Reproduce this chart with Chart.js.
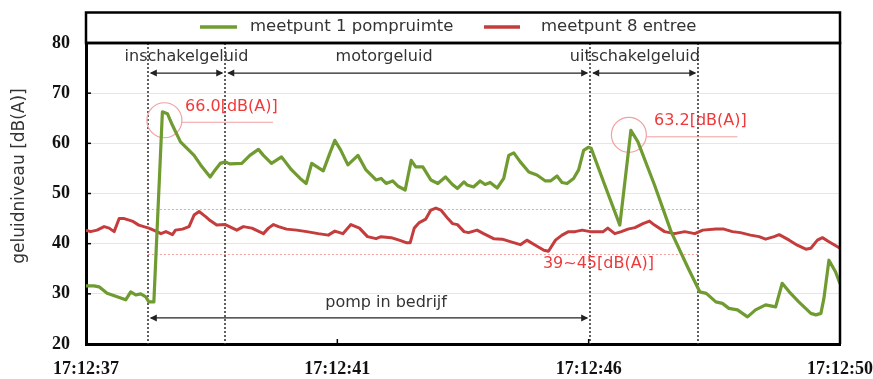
<!DOCTYPE html>
<html><head><meta charset="utf-8">
<script src="https://cdn.jsdelivr.net/npm/chart.js@4.4.0/dist/chart.umd.min.js"></script>
<style>html,body{margin:0;padding:0;background:#fff;}#wrap{width:873px;height:379px;position:relative;}</style>
</head><body><div id="wrap"><canvas id="c" width="873" height="379"></canvas></div>
<script>
const xTickLabels = ['17:12:37','17:12:41','17:12:46','17:12:50'];
const seriesNames = ['meetpunt 1 pompruimte','meetpunt 8 entree'];
const yTitle = 'geluidniveau [dB(A)]';

const greenX = [0,1.6,2.6,4.2,6.2,7.9,8.9,9.9,10.9,11.9,
12.5,13.5,15.2,16.2,17.2,18.8,20.5,21.5,22.8,24.7,
25.7,26.7,27.7,28.6,31.0,32.6,34.3,35.3,36.9,38.9,
40.9,42.6,43.8,44.9,47.2,48.5,49.5,50.7,52.1,54.1,
55.7,57.7,58.7,59.7,61.0,62.0,63.5,64.7,65.6,67.0,
68.6,70.0,71.5,72.9,73.9,75.2,75.8,77.1,78.4,79.4,
80.4,81.8,83.1,84.1,85.1,86.4,88.1,89.7,91.4,92.4,
93.7,94.7,95.7,97.0,98.0,99.0,99.9,100.5,103.2,106.2,
108.4,109.8,113.1,116.4,119.8,122.1,123.4,125.3,126.6,127.9,
129.6,130.6,131.6,133.2,135.2,137.2,138.5,139.9,141.8,144.2,
145.2,146.2,146.8,147.8,149.1,150];
const greenY = [31.6,31.6,31.4,30.1,29.4,28.8,30.4,29.8,30.0,29.4,
28.4,28.4,66.3,65.9,63.6,60.3,58.6,57.6,55.7,53.3,
54.7,56.0,56.3,55.9,56.0,57.6,58.8,57.6,56.0,57.3,
54.7,53.0,52.0,56.0,54.5,58.0,60.6,58.6,55.7,57.6,
54.7,52.7,53.0,52.0,52.5,51.5,50.7,56.6,55.3,55.3,
52.7,52.0,53.3,51.8,51.0,52.3,51.7,51.3,52.5,51.8,
52.2,51.1,53.0,57.6,58.1,56.3,54.3,53.7,52.5,52.5,
53.5,52.2,52.0,53.0,54.7,58.6,59.2,59.0,51.7,43.7,
62.6,60.3,51.7,42.4,35.1,30.4,30.1,28.4,28.1,27.1,
26.8,26.1,25.4,26.8,27.8,27.4,32.1,30.4,28.4,26.1,
25.8,26.1,29.1,36.7,34.4,32.0];

const redX = [0,0.9,2.2,3.6,4.6,5.6,6.6,7.6,9.2,10.5,
12.5,13.9,14.9,15.9,17.2,17.8,19.2,20.5,21.5,22.5,
23.8,24.7,26.0,27.7,30.0,31.3,33.0,35.3,36.3,37.3,
38.3,39.9,41.9,43.9,46.2,48.2,49.5,51.1,52.7,54.4,
56.0,57.7,58.7,60.7,62.3,63.7,64.5,65.3,66.3,67.6,
68.6,69.6,70.6,72.0,72.9,73.9,75.2,76.1,77.8,79.1,
81.1,82.8,84.4,86.4,87.7,89.4,91.1,92.0,93.4,94.7,
96.0,97.3,98.7,100.3,102.9,103.8,105.2,106.5,107.8,109.2,
110.8,112.1,113.1,115.1,117.1,119.1,121.1,122.7,125.3,126.9,
128.6,130.2,132.2,133.9,135.2,136.9,137.9,139.9,141.5,143.2,
144.2,145.5,146.5,147.8,149.5,150];
const redY = [42.7,42.4,42.7,43.4,43.1,42.4,45.0,45.0,44.5,43.7,
43.1,42.5,42.0,42.4,41.8,42.7,42.9,43.4,45.7,46.4,
45.4,44.6,43.7,43.8,42.7,43.4,43.1,42.0,43.1,43.8,
43.4,42.9,42.7,42.4,42.0,41.7,42.5,42.0,43.8,43.1,
41.4,41.0,41.4,41.2,40.7,40.2,40.2,43.1,44.2,44.9,
46.7,47.1,46.7,45.0,44.0,43.8,42.4,42.2,42.7,42.0,
41.0,40.9,40.4,39.8,40.7,39.7,38.7,38.5,40.7,41.7,
42.4,42.4,42.7,42.4,42.4,43.1,42.0,42.4,42.9,43.2,
44.0,44.5,43.7,42.4,42.0,42.4,42.0,42.7,42.9,42.9,
42.4,42.2,41.7,41.4,40.9,41.4,41.8,40.7,39.7,38.9,
39.1,40.7,41.2,40.4,39.4,39.1];

// annotations (in data units)
const phaseBounds = [12.3, 27.7, 100.3, 121.8];
const phaseLabels = ['inschakelgeluid','motorgeluid','uitschakelgeluid'];
const phaseLabelX = [20.0, 59.3, 109.2];
const runLabel = 'pomp in bedrijf';
const bandLimits = [37.9, 46.9];
const bandLabel = '39~45[dB(A)]';
const peakLabels = ['66.0[dB(A)]','63.2[dB(A)]'];
const peakCx = [15.6, 108.0];
const peakCy = [64.6, 61.7];

const GREEN = '#6f9b31', RED = '#c43c3c', ANN = '#f0393a', PINK = '#f2a0a0';
const SANS = '"DejaVu Sans", sans-serif';

function head(ctx, xt, py, dir){
  ctx.beginPath(); ctx.moveTo(xt, py); ctx.lineTo(xt + dir*7, py-3.5); ctx.lineTo(xt + dir*7, py+3.5); ctx.closePath(); ctx.fill();
}
function arrow(ctx, x1, x2, py){
  ctx.strokeStyle = '#222'; ctx.fillStyle = '#222'; ctx.lineWidth = 1.4;
  ctx.beginPath(); ctx.moveTo(x1+3, py); ctx.lineTo(x2-3, py); ctx.stroke();
  head(ctx, x1+2, py, 1); head(ctx, x2-2, py, -1);
}

const annot = {
  id: 'annot',
  beforeDatasetsDraw(chart){
    const {ctx, chartArea:a, scales:{x, y}} = chart;
    ctx.save();
    ctx.strokeStyle = PINK; ctx.lineWidth = 1; ctx.setLineDash([2,2]);
    bandLimits.forEach(v => {
      const py = Math.round(y.getPixelForValue(v)) + 0.5;
      ctx.beginPath(); ctx.moveTo(x.getPixelForValue(phaseBounds[0]), py); ctx.lineTo(x.getPixelForValue(phaseBounds[3]), py); ctx.stroke();
    });
    ctx.strokeStyle = '#3a3a3a'; ctx.lineWidth = 1.6; ctx.setLineDash([2,2]);
    phaseBounds.forEach(u => {
      const px = Math.round(x.getPixelForValue(u));
      ctx.beginPath(); ctx.moveTo(px, a.top); ctx.lineTo(px, a.bottom); ctx.stroke();
    });
    ctx.setLineDash([]);
    const ta = y.getPixelForValue(74.0);
    for (let i = 0; i < 3; i++) arrow(ctx, x.getPixelForValue(phaseBounds[i]), x.getPixelForValue(phaseBounds[i+1]), ta);
    const ba = y.getPixelForValue(25.2);
    arrow(ctx, x.getPixelForValue(phaseBounds[0]), x.getPixelForValue(phaseBounds[2]), ba);
    ctx.fillStyle = '#333'; ctx.font = '16px ' + SANS; ctx.textAlign = 'center'; ctx.textBaseline = 'middle';
    phaseLabels.forEach((t, i) => ctx.fillText(t, x.getPixelForValue(phaseLabelX[i]), y.getPixelForValue(77.2)));
    ctx.fillText(runLabel, x.getPixelForValue(59.7), y.getPixelForValue(28.2));
    ctx.fillStyle = ANN; ctx.textAlign = 'left';
    ctx.fillText(bandLabel, x.getPixelForValue(90.9), y.getPixelForValue(35.9));
    const lineEnd = [37.2, 129.6];
    const labelX = [19.7, 113.0];
    peakLabels.forEach((t, i) => {
      const cx = x.getPixelForValue(peakCx[i]), cy = y.getPixelForValue(peakCy[i]);
      const r = 17.5;
      ctx.strokeStyle = PINK; ctx.lineWidth = 1.2;
      ctx.beginPath(); ctx.arc(cx, cy, r, 0, Math.PI*2); ctx.stroke();
      const ly = cy + 2;
      ctx.lineWidth = 1;
      ctx.beginPath(); ctx.moveTo(cx + r, ly); ctx.lineTo(x.getPixelForValue(lineEnd[i]), ly); ctx.stroke();
      ctx.fillStyle = ANN; ctx.textAlign = 'left';
      ctx.fillText(t, x.getPixelForValue(labelX[i]), cy - 13.5);
    });
    ctx.restore();
  },
  afterDraw(chart){
    const {ctx, chartArea:a, scales:{x, y}} = chart;
    ctx.save();
    ctx.strokeStyle = '#000';
    ctx.lineWidth = 2.5;
    ctx.beginPath(); ctx.moveTo(a.left, a.top); ctx.lineTo(a.right, a.top); ctx.lineTo(a.right, a.bottom); ctx.stroke();
    ctx.strokeRect(a.left, 12.5, a.right - a.left, a.top - 12.5);
    ctx.lineWidth = 1.5;
    [30,40,50,60,70].forEach(v => { const py = y.getPixelForValue(v); ctx.beginPath(); ctx.moveTo(a.left, py); ctx.lineTo(a.left+5, py); ctx.stroke(); });
    [50,100].forEach(u => { const px = x.getPixelForValue(u); ctx.beginPath(); ctx.moveTo(px, a.bottom); ctx.lineTo(px, a.bottom-5); ctx.stroke(); });
    const ly = 27;
    ctx.font = '16.5px ' + SANS; ctx.textBaseline = 'middle'; ctx.textAlign = 'left'; ctx.fillStyle = '#333';
    ctx.lineWidth = 3.5;
    ctx.strokeStyle = GREEN; ctx.beginPath(); ctx.moveTo(200, ly); ctx.lineTo(237, ly); ctx.stroke();
    ctx.fillText(seriesNames[0], 250, ly);
    ctx.strokeStyle = RED; ctx.beginPath(); ctx.moveTo(484, ly); ctx.lineTo(520, ly); ctx.stroke();
    ctx.fillText(seriesNames[1], 541, ly);
    ctx.translate(20, 176); ctx.rotate(-Math.PI/2);
    ctx.font = '17px ' + SANS; ctx.textAlign = 'center'; ctx.fillStyle = '#333';
    ctx.fillText(yTitle, 0, 0);
    ctx.restore();
  }
};

const tickFont = {family: '"Liberation Serif", serif', weight: 'bold', size: 18};

new Chart(document.getElementById('c'), {
  type: 'line',
  data: {
    datasets: [
      {label: seriesNames[0], data: greenX.map((v, i) => ({x: v, y: greenY[i]})), borderColor: GREEN, borderWidth: 3.2, pointRadius: 0, tension: 0, borderJoinStyle: 'round'},
      {label: seriesNames[1], data: redX.map((v, i) => ({x: v, y: redY[i]})), borderColor: RED, borderWidth: 3, pointRadius: 0, tension: 0, borderJoinStyle: 'round'}
    ]
  },
  options: {
    responsive: false, animation: false, events: [],
    layout: {padding: {top: 43, right: 33, left: 0, bottom: 0}},
    plugins: {legend: {display: false}, tooltip: {enabled: false}},
    scales: {
      x: {type: 'linear', min: 0, max: 150,
        afterFit(s){ s.height = 35; s.paddingLeft = 0; s.paddingRight = 0; },
        ticks: {stepSize: 50, autoSkip: false, maxRotation: 0, font: tickFont, color: '#111', padding: 15,
          callback: v => xTickLabels[Math.round(v/50)]},
        grid: {display: false, drawTicks: false},
        border: {color: '#000', width: 3}},
      y: {min: 20, max: 80,
        afterFit(s){ s.width = 86; s.paddingTop = 0; s.paddingBottom = 0; },
        ticks: {stepSize: 10, font: tickFont, color: '#111', padding: 16},
        grid: {color: '#e6e6e6', lineWidth: 1, drawTicks: false},
        border: {color: '#000', width: 3}}
    }
  },
  plugins: [annot]
});
</script>
</body></html>
